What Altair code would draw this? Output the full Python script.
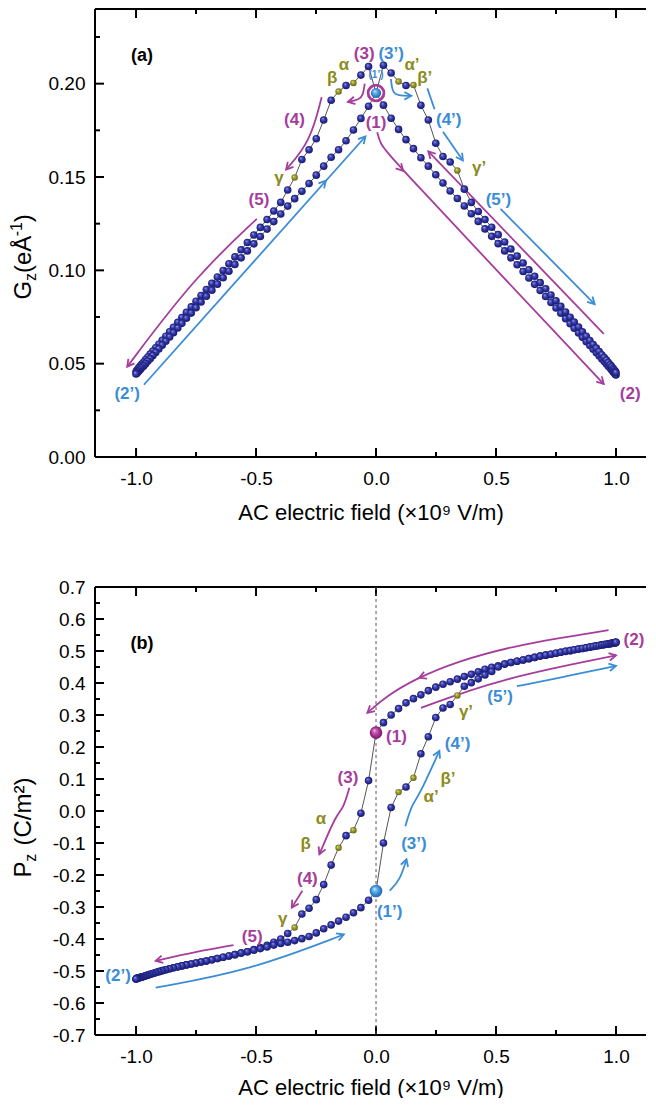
import math
import altair as alt
import pandas as pd

FONT = "Liberation Sans"
MAG = "#a63d9c"
BLU = "#3b8dd5"
OLV = "#8c8c20"
BLK = "#000000"

# ---------------- data ----------------
E_pos = [0.000, 0.031, 0.063, 0.094, 0.125, 0.156, 0.187, 0.218, 0.249, 0.279,
         0.309, 0.339, 0.368, 0.397, 0.426, 0.454, 0.482, 0.509, 0.536, 0.562,
         0.588, 0.613, 0.637, 0.661, 0.684, 0.707, 0.729, 0.750, 0.770, 0.790,
         0.809, 0.826, 0.844, 0.860, 0.876, 0.891, 0.905, 0.918, 0.930, 0.941,
         0.951, 0.960, 0.968, 0.976, 0.982, 0.988, 0.992, 0.996, 0.998, 1.000]
E_neg = [-0.000, -0.031, -0.063, -0.094, -0.125, -0.156, -0.187, -0.218, -0.249, -0.279,
         -0.309, -0.339, -0.368, -0.397, -0.426, -0.454, -0.482, -0.509, -0.536, -0.562,
         -0.588, -0.613, -0.637, -0.661, -0.684, -0.707, -0.729, -0.750, -0.770, -0.790,
         -0.809, -0.826, -0.844, -0.860, -0.876, -0.891, -0.905, -0.918, -0.930, -0.941,
         -0.951, -0.960, -0.968, -0.976, -0.982, -0.988, -0.992, -0.996, -0.998, -1.000]

# panel (a): Gz
Gz_inner_right = [0.1950, 0.1885, 0.1815, 0.1755, 0.1700, 0.1652, 0.1603, 0.1558, 0.1512, 0.1468,
                  0.1425, 0.1385, 0.1345, 0.1303, 0.1262, 0.1222, 0.1182, 0.1143, 0.1104, 0.1067,
                  0.1030, 0.0994, 0.0959, 0.0925, 0.0892, 0.0860, 0.0828, 0.0798, 0.0770, 0.0741,
                  0.0714, 0.0690, 0.0664, 0.0641, 0.0618, 0.0597, 0.0577, 0.0558, 0.0541, 0.0525,
                  0.0511, 0.0498, 0.0486, 0.0475, 0.0466, 0.0457, 0.0451, 0.0445, 0.0442, 0.0439]
Gz_inner_left = [0.1950, 0.1879, 0.1814, 0.1752, 0.1694, 0.1646, 0.1606, 0.1558, 0.1510, 0.1465,
                 0.1424, 0.1384, 0.1344, 0.1302, 0.1261, 0.1221, 0.1181, 0.1142, 0.1104, 0.1067,
                 0.1031, 0.0995, 0.0960, 0.0926, 0.0893, 0.0861, 0.0830, 0.0800, 0.0771, 0.0743,
                 0.0716, 0.0691, 0.0666, 0.0643, 0.0620, 0.0599, 0.0579, 0.0560, 0.0543, 0.0527,
                 0.0513, 0.0500, 0.0488, 0.0478, 0.0469, 0.0461, 0.0455, 0.0450, 0.0447, 0.0445]
Gz_outer_left = [0.2092, 0.2046, 0.2004, 0.1990, 0.1958, 0.1911, 0.1805, 0.1705, 0.1646, 0.1594,
                 0.1497, 0.1430, 0.1364, 0.1318, 0.1272, 0.1230, 0.1189, 0.1149, 0.1110, 0.1072,
                 0.1035, 0.0999, 0.0964, 0.0930, 0.0897, 0.0865, 0.0834, 0.0804, 0.0775, 0.0747,
                 0.0721, 0.0695, 0.0671, 0.0647, 0.0625, 0.0604, 0.0585, 0.0567, 0.0551, 0.0536,
                 0.0522, 0.0509, 0.0498, 0.0488, 0.0479, 0.0471, 0.0465, 0.0460, 0.0456]
Gz_outer_right = [0.2099, 0.2057, 0.2011, 0.1990, 0.1993, 0.1884, 0.1805, 0.1681, 0.1610, 0.1580,
                  0.1535, 0.1435, 0.1364, 0.1315, 0.1272, 0.1231, 0.1191, 0.1152, 0.1114, 0.1076,
                  0.1039, 0.1003, 0.0968, 0.0934, 0.0901, 0.0868, 0.0837, 0.0807, 0.0777, 0.0749,
                  0.0723, 0.0696, 0.0671, 0.0647, 0.0624, 0.0603, 0.0583, 0.0565, 0.0548, 0.0533,
                  0.0519, 0.0506, 0.0494, 0.0484, 0.0474, 0.0467, 0.0460, 0.0456, 0.0452]
Gz_start = 0.195

# panel (b): Pz
P_upper = [0.245, 0.276, 0.300, 0.320, 0.338, 0.351, 0.363, 0.376, 0.387, 0.396,
           0.404, 0.412, 0.420, 0.427, 0.435, 0.443, 0.449, 0.454, 0.459, 0.464,
           0.468, 0.472, 0.476, 0.480, 0.484, 0.487, 0.490, 0.493, 0.496, 0.499,
           0.501, 0.504, 0.506, 0.508, 0.510, 0.512, 0.514, 0.516, 0.517, 0.519,
           0.520, 0.521, 0.522, 0.523, 0.524, 0.525, 0.525, 0.526, 0.526, 0.527]
P_lower = [-0.250, -0.279, -0.302, -0.318, -0.332, -0.344, -0.356, -0.368, -0.381, -0.392,
           -0.399, -0.405, -0.410, -0.414, -0.419, -0.425, -0.430, -0.435, -0.440, -0.444,
           -0.449, -0.453, -0.457, -0.461, -0.465, -0.469, -0.472, -0.475, -0.478, -0.481,
           -0.484, -0.487, -0.490, -0.493, -0.496, -0.499, -0.502, -0.505, -0.508, -0.510,
           -0.513, -0.515, -0.517, -0.519, -0.520, -0.521, -0.522, -0.523, -0.524, -0.525]
P_descend = [0.095, -0.007, -0.060, -0.077, -0.115, -0.169, -0.230, -0.277, -0.304, -0.322,
             -0.364, -0.383, -0.400, -0.410, -0.420, -0.427, -0.433]
P_ascend = [-0.100, 0.011, 0.059, 0.075, 0.104, 0.179, 0.232, 0.292, 0.322, 0.333,
            0.361, 0.390, 0.401, 0.413, 0.425, 0.436, 0.450]
P_start_1 = 0.245
P_start_1p = -0.250

OLIVE_IDX = [3, 5, 11]

X_MAJOR = [-1.0, -0.5, 0.0, 0.5, 1.0]
X_MINOR = [-0.75, -0.25, 0.25, 0.75]
YA_MAJOR = [0.0, 0.05, 0.10, 0.15, 0.20]
YA_MINOR = [0.025, 0.075, 0.125, 0.175, 0.225]
YB_MAJOR = [-0.7, -0.6, -0.5, -0.4, -0.3, -0.2, -0.1, 0.0, 0.1, 0.2, 0.3, 0.4, 0.5, 0.6, 0.7]
YB_MINOR = [-0.65, -0.55, -0.45, -0.35, -0.25, -0.15, -0.05, 0.05, 0.15, 0.25, 0.35, 0.45, 0.55, 0.65]

LABELS_A = [("(a)", -0.975, 0.2148, BLK, 18), ("(3)", -0.049, 0.2157, MAG, 17),
            ("(3’)", 0.063, 0.2157, BLU, 17), ("α", -0.134, 0.2099, OLV, 17),
            ("β", -0.183, 0.2028, OLV, 17), ("α’", 0.150, 0.2099, OLV, 17),
            ("β’", 0.203, 0.2028, OLV, 17), ("(1’)", 0.0, 0.2047, BLU, 10),
            ("(1)", 0.0, 0.1787, MAG, 17), ("(4)", -0.34, 0.1805, MAG, 17),
            ("(4’)", 0.303, 0.1805, BLU, 17), ("γ", -0.404, 0.1496, OLV, 17),
            ("γ’", 0.43, 0.155, OLV, 17), ("(5)", -0.488, 0.1379, MAG, 17),
            ("(5’)", 0.51, 0.1379, BLU, 17), ("(2’)", -1.037, 0.0335, BLU, 17),
            ("(2)", 1.059, 0.0335, MAG, 17)]
LABELS_B = [("(b)", -0.975, 0.521, BLK, 18), ("(2)", 1.075, 0.5355, MAG, 17),
            ("(1)", 0.085, 0.230, MAG, 17), ("(3)", -0.117, 0.102, MAG, 17),
            ("α", -0.229, -0.025, OLV, 17), ("β", -0.293, -0.104, OLV, 17),
            ("(4)", -0.286, -0.211, MAG, 17), ("γ", -0.389, -0.337, OLV, 17),
            ("(5)", -0.516, -0.395, MAG, 17), ("(2’)", -1.075, -0.517, BLU, 17),
            ("(1’)", 0.057, -0.317, BLU, 17), ("(3’)", 0.158, -0.104, BLU, 17),
            ("α’", 0.230, 0.043, OLV, 17), ("β’", 0.300, 0.100, OLV, 17),
            ("(4’)", 0.34, 0.21, BLU, 17), ("γ’", 0.375, 0.308, OLV, 17),
            ("(5’)", 0.517, 0.355, BLU, 17)]

ARROWS_A = {
    "m1": (MAG, [(0.005, 0.174), (0.017, 0.1681), (0.052, 0.1616), (0.949, 0.0391)]),
    "m2": (MAG, [(0.949, 0.066), (0.218, 0.1637)]),
    "m3": (MAG, [(-0.047, 0.2000), (-0.054, 0.1937), (-0.07, 0.1915), (-0.117, 0.1902)]),
    "m4": (MAG, [(-0.2265, 0.1928), (-0.2735, 0.169), (-0.3746, 0.154)]),
    "m5": (MAG, [(-0.4965, 0.1276), (-0.7578, 0.096), (-1.0366, 0.0484)]),
    "b1": (BLU, [(-0.967, 0.0387), (-0.044, 0.1717)]),
    "b2": (BLU, [(0.062, 0.2025), (0.068, 0.1955), (0.09, 0.1935), (0.147, 0.1935)]),
    "b3": (BLU, [(0.214, 0.1975), (0.244, 0.1863)]),
    "b4": (BLU, [(0.279, 0.1743), (0.362, 0.1588)]),
    "b5": (BLU, [(0.519, 0.1329), (0.911, 0.0819)]),
}
HEADS_A = [("m1",), ("m2",), ("m3",), ("m4",), ("m5",), ("b1",), ("b2",), ("b4",), ("b5",),
           ("m1", 0.113, 0.1533, 2), ("b1", -0.209, 0.148, 0)]
ARROWS_B = {
    "m1": (MAG, [(0.969, 0.565), (0.595, 0.521), (0.335, 0.467), (0.161, 0.412), (0.04, 0.357), (-0.036, 0.307)]),
    "m2": (MAG, [(0.1875, 0.322), (0.509, 0.412), (1.0, 0.486)]),
    "m3": (MAG, [(-0.111, 0.073), (-0.137, 0.006), (-0.165, -0.010), (-0.236, -0.135)]),
    "m4": (MAG, [(-0.307, -0.249), (-0.351, -0.302)]),
    "m5": (MAG, [(-0.594, -0.419), (-0.75, -0.44), (-0.918, -0.468)]),
    "b1": (BLU, [(-0.918, -0.552), (-0.533, -0.5), (-0.134, -0.386)]),
    "b2": (BLU, [(0.057, -0.249), (0.1, -0.216), (0.127, -0.151)]),
    "b3": (BLU, [(0.122, -0.048), (0.15, 0.022), (0.178, 0.045), (0.264, 0.188)]),
    "b4": (BLU, [(0.587, 0.39), (0.769, 0.417), (1.0, 0.4535)]),
}
HEADS_B = [("m1",), ("m2",), ("m3",), ("m4",), ("m5",), ("b1",), ("b2",), ("b3",), ("b4",),
           ("m1", 0.18, 0.416, 2)]

# ---------------- layout ----------------
W = 551
H = 448
XMIN, XMAX = -1.171, 1.125
YA_DOM = [0.0, 0.24]
YB_DOM = [-0.7, 0.7]
KX = W / (XMAX - XMIN)
X_TITLE = "AC electric field (×10⁹ V/m)"
HEAD_SHAPE = "M-1,-0.55L0,0L-1,0.55"


def grad(c0, c1, c2, c3):
    return {"gradient": "radial", "x1": 0.36, "y1": 0.32, "r1": 0.0,
            "x2": 0.5, "y2": 0.5, "r2": 0.55,
            "stops": [{"offset": 0.0, "color": c0}, {"offset": 0.2, "color": c1},
                      {"offset": 0.6, "color": c2}, {"offset": 1.0, "color": c3}]}


NAVY_G = grad("#e4e6ff", "#5a60cc", "#282c94", "#15176a")
OLV_G = grad("#f6f6c8", "#bcbc55", "#8d8d25", "#5c5c10")
BLU_G = grad("#eef7ff", "#86c6f2", "#3b8fd8", "#1d5c99")
MAG_G = grad("#ffe0f6", "#cf72bf", "#a3318f", "#6a165e")


def xenc(field, tpad):
    return alt.X(f"{field}:Q",
                 scale=alt.Scale(domain=[XMIN, XMAX], nice=False, zero=False),
                 axis=alt.Axis(values=X_MAJOR, title=X_TITLE,
                               labelExpr="replace(format(datum.value, '.1f'), '\u2212', '-')",
                               labelPadding=12, titlePadding=tpad, labelFlush=False,
                               labelOverlap=False))


def yenc(field, dom, vals, fmt):
    return alt.Y(f"{field}:Q",
                 scale=alt.Scale(domain=dom, nice=False, zero=False),
                 axis=alt.Axis(values=vals, title=None,
                               labelExpr=f"replace(format(datum.value, '{fmt}'), '\u2212', '-')",
                               labelPadding=10, labelFlush=False, labelOverlap=False))


def panel(segs, labels, arrows, heads, ydom, ymaj, ymin, fmt, specials, title_pieces,
          zero_line, tpad):
    ky = H / (ydom[1] - ydom[0])
    X = lambda f: xenc(f, tpad)
    Y = lambda f: yenc(f, ydom, ymaj, fmt)
    layers = []
    one = pd.DataFrame({"k": [0]})
    # frame: left, top, bottom (the right side is cut off in the picture)
    layers.append(alt.Chart(one).mark_rule(color="black", strokeWidth=2).encode(
        x=alt.value(0), y=alt.value(0), y2=alt.value(H)))
    layers.append(alt.Chart(one).mark_rule(color="black", strokeWidth=2).encode(
        x=alt.value(0), x2=alt.value(W), y=alt.value(0)))
    layers.append(alt.Chart(one).mark_rule(color="black", strokeWidth=2).encode(
        x=alt.value(0), x2=alt.value(W), y=alt.value(H)))
    # inward ticks
    for vals, ln in ((X_MAJOR, 9), (X_MINOR, 5)):
        d = pd.DataFrame({"v": vals})
        layers.append(alt.Chart(d).mark_rule(color="black", strokeWidth=2).encode(
            x=X("v"), y=alt.value(0), y2=alt.value(ln)))
        layers.append(alt.Chart(d).mark_rule(color="black", strokeWidth=2).encode(
            x=X("v"), y=alt.value(H), y2=alt.value(H - ln)))
    for vals, ln in ((ymaj, 9), (ymin, 5)):
        d = pd.DataFrame({"v": vals})
        layers.append(alt.Chart(d).mark_rule(color="black", strokeWidth=2).encode(
            y=Y("v"), x=alt.value(0), x2=alt.value(ln)))
    if zero_line:
        layers.append(alt.Chart(pd.DataFrame({"v": [0.0]})).mark_rule(
            color="#555555", strokeWidth=1, strokeDash=[3, 3]).encode(x=X("v")))
    # connecting lines and balls
    line_rows, ball_rows = [], []
    for name, es, vs, skip_first in segs:
        for i, (e, v) in enumerate(zip(es, vs)):
            line_rows.append({"seg": name, "i": i, "E": e, "V": v})
            if skip_first and i == 0:
                continue
            kind = "olive" if (skip_first and i in OLIVE_IDX) else "navy"
            ball_rows.append({"E": e, "V": v, "kind": kind})
    ldf = pd.DataFrame(line_rows)
    bdf = pd.DataFrame(ball_rows)
    layers.append(alt.Chart(ldf).mark_line(color="#555555", strokeWidth=1).encode(
        x=X("E"), y=Y("V"), detail="seg:N", order="i:Q"))
    # arrows
    arows, hrows = [], []
    for aid, (col, pts) in arrows.items():
        for i, (e, v) in enumerate(pts):
            arows.append({"id": aid, "i": i, "E": e, "V": v, "col": col})
    for h in heads:
        col, pts = arrows[h[0]]
        if len(h) == 1:
            (x0, y0), (x1, y1) = pts[-2], pts[-1]
            px, py = x1, y1
        else:
            px, py, j = h[1], h[2], h[3]
            (x0, y0), (x1, y1) = pts[j], pts[j + 1]
        ang = math.degrees(math.atan2(-(y1 - y0) * ky, (x1 - x0) * KX)) % 360
        hrows.append({"E": px, "V": py, "ang": ang, "col": col})
    layers.append(alt.Chart(pd.DataFrame(arows)).mark_line(strokeWidth=1.8, interpolate="basis").encode(
        x=X("E"), y=Y("V"), detail="id:N", order="i:Q",
        color=alt.Color("col:N", scale=None)))
    layers.append(alt.Chart(pd.DataFrame(hrows)).mark_point(
        shape=HEAD_SHAPE, filled=False, size=190, strokeWidth=1.8, opacity=1).encode(
        x=X("E"), y=Y("V"), angle=alt.Angle("ang:Q", scale=None),
        color=alt.Color("col:N", scale=None)))
    layers.append(alt.Chart(bdf[bdf["kind"] == "navy"]).mark_circle(
        size=58, color=NAVY_G, opacity=1).encode(x=X("E"), y=Y("V")))
    layers.append(alt.Chart(bdf[bdf["kind"] == "olive"]).mark_circle(
        size=42, color=OLV_G, opacity=1).encode(x=X("E"), y=Y("V")))
    # special balls
    for sp in specials:
        d = pd.DataFrame({"E": [sp[1]], "V": [sp[2]]})
        if sp[0] == "ring":
            layers.append(alt.Chart(d).mark_point(shape="circle", size=sp[3], filled=False,
                                                  color=MAG, strokeWidth=2.8, opacity=1).encode(
                x=X("E"), y=Y("V")))
        else:
            layers.append(alt.Chart(d).mark_circle(size=sp[3], color=sp[0], opacity=1).encode(
                x=X("E"), y=Y("V")))
    # text labels
    tdf = pd.DataFrame(labels, columns=["txt", "E", "V", "col", "fs"])
    layers.append(alt.Chart(tdf).mark_text(font=FONT, fontWeight="bold", align="center",
                                           baseline="middle").encode(
        x=X("E"), y=Y("V"), text="txt:N", color=alt.Color("col:N", scale=None),
        size=alt.Size("fs:Q", scale=None)))
    # rotated y title made of pieces (subscripts / superscripts)
    for txt, px, py, fs in title_pieces:
        layers.append(alt.Chart(one).mark_text(font=FONT, fontSize=fs, angle=270, align="left",
                                               baseline="alphabetic", color="black").encode(
            x=alt.value(px), y=alt.value(py * H / 454), text=alt.value(txt)))
    return alt.layer(*layers).properties(width=W, height=H)


segs_a = [
    ("IR", E_pos, Gz_inner_right, False),
    ("OL", [0.0] + E_neg[1:], [Gz_start] + Gz_outer_left, True),
    ("IL", E_neg, Gz_inner_left, False),
    ("OR", [0.0] + E_pos[1:], [Gz_start] + Gz_outer_right, True),
]
segs_b = [
    ("U", E_pos, P_upper, False),
    ("D", [0.0] + E_neg[1:], [P_start_1] + P_descend + P_lower[18:], True),
    ("L", E_neg, P_lower, False),
    ("A", [0.0] + E_pos[1:], [P_start_1p] + P_ascend + P_upper[18:], True),
]

XB = -64.5
title_a = [("G", XB, 294.3, 24), ("z", XB + 5, 275.6, 16), ("(eÅ", XB, 267.6, 24),
           ("-1", XB - 9, 230.3, 16), (")", XB, 216.1, 24)]
title_b = [("P", XB, 294.5, 24), ("z", XB + 5, 278.5, 16), ("(C/m²)", XB, 262.0, 24)]

specials_a = [("ring", 0.0, Gz_start, 250), (BLU_G, 0.0, Gz_start, 105)]
specials_b = [(MAG_G, 0.0, P_start_1, 160), (BLU_G, 0.0, P_start_1p, 160)]

pa = panel(segs_a, LABELS_A, ARROWS_A, HEADS_A, YA_DOM, YA_MAJOR, YA_MINOR, ".2f",
           specials_a, title_a, False, 14)
pb = panel(segs_b, LABELS_B, ARROWS_B, HEADS_B, YB_DOM, YB_MAJOR, YB_MINOR, ".1f",
           specials_b, title_b, True, 11)

chart = alt.vconcat(pa, pb, spacing=55).properties(
    padding={"left": 0, "top": 0, "right": 0, "bottom": 0}
).configure_view(strokeWidth=0).configure_axis(
    labelFont=FONT, labelFontSize=19, labelColor="black", ticks=False, tickSize=0,
    domain=False, grid=False, titleFont=FONT, titleFontSize=22, titleFontWeight="normal",
    titleColor="black"
)

chart.save("out.html", embed_options={"renderer": "svg", "actions": False})
